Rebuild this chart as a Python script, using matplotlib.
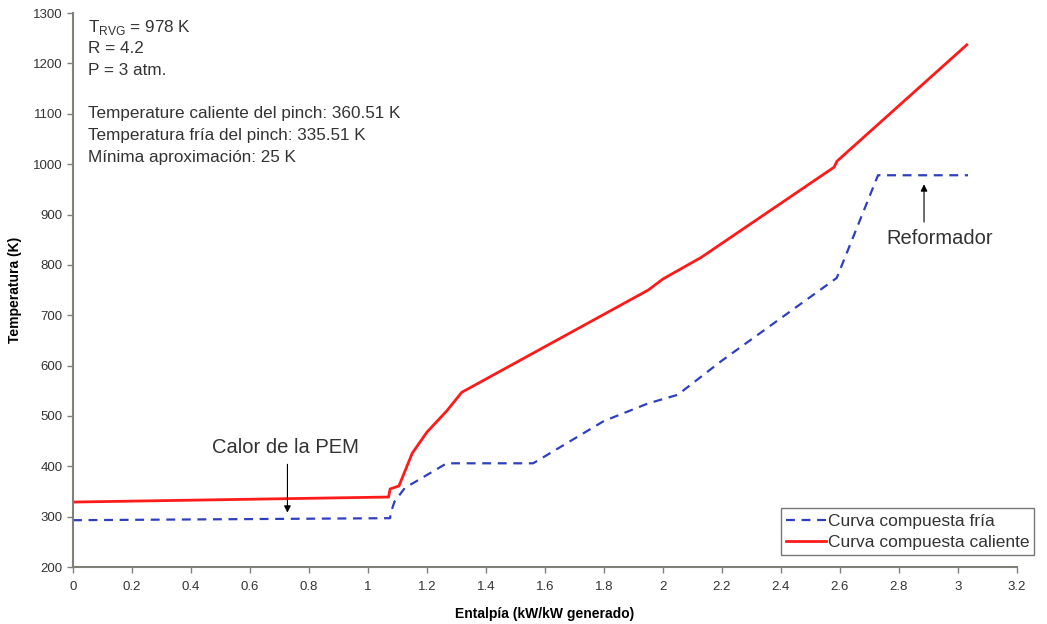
import numpy as np
import matplotlib
matplotlib.use("Agg")
import matplotlib.pyplot as plt

plt.rcParams["font.family"] = ["Liberation Sans", "DejaVu Sans"]
plt.rcParams["mathtext.fontset"] = "custom"
plt.rcParams["mathtext.rm"] = "Liberation Sans"

# composite curves
hot_h = [0.0, 1.07, 1.075, 1.105, 1.15, 1.20, 1.267, 1.318, 1.95, 2.0, 2.13, 2.58, 2.59, 3.03]
hot_t = [329, 339, 355, 361, 426, 468, 510, 547, 750, 772, 815, 994, 1006, 1237]

cold_h = [0.0, 1.075, 1.078, 1.09, 1.125, 1.267, 1.56, 1.8, 1.95, 2.05, 2.2, 2.589, 2.729, 3.034]
cold_t = [293, 297, 309, 330, 357, 406, 406, 490, 525, 542, 610, 774, 978, 978]

info_lines = [
    r"T$_{\mathrm{RVG}}$ = 978 K",
    "R = 4.2",
    "P = 3 atm.",
    "",
    "Temperature caliente del pinch: 360.51 K",
    "Temperatura fría del pinch: 335.51 K",
    "Mínima aproximación: 25 K",
]

fig = plt.figure(figsize=(10.47, 6.24), dpi=100)
ax = fig.add_axes([0.0697, 0.0913, 0.9016, 0.8877])

ax.plot(cold_h, cold_t, color="#2f3fbf", lw=1.6, ls=(0, (4, 3)),
        label="Curva compuesta fría")
ax.plot(hot_h, hot_t, color="#ff1a1a", lw=2.0, label="Curva compuesta caliente")

ax.set_xlim(0, 3.2)
ax.set_ylim(200, 1300)
ax.set_xticks(np.arange(0, 3.21, 0.2))
ax.set_xticklabels(["0", "0.2", "0.4", "0.6", "0.8", "1", "1.2", "1.4", "1.6", "1.8",
                    "2", "2.2", "2.4", "2.6", "2.8", "3", "3.2"])
ax.set_yticks(np.arange(200, 1301, 100))
ax.tick_params(axis="both", direction="out", length=4, width=1, color="#808080",
               labelsize=9.5, labelcolor="#333333")
ax.tick_params(axis="x", pad=6)
for s in ["top", "right"]:
    ax.spines[s].set_visible(False)
for s in ["left", "bottom"]:
    ax.spines[s].set_color("#808078")
    ax.spines[s].set_linewidth(1.5)

ax.set_xlabel("Entalpía (kW/kW generado)", fontsize=10, fontweight="bold", labelpad=10)
ax.set_ylabel("Temperatura (K)", fontsize=10, fontweight="bold", labelpad=8)

y0 = 1272
for i, line in enumerate(info_lines):
    ax.text(0.05, y0 - i * 43, line, fontsize=12.3, color="#333333", va="center", ha="left")

ax.text(0.72, 438, "Calor de la PEM", fontsize=14.5, color="#333333", ha="center", va="center")
ax.annotate("", xy=(0.727, 308), xytext=(0.727, 404),
            arrowprops=dict(arrowstyle="-|>", color="black", lw=0.8,
                            shrinkA=0, shrinkB=0, mutation_scale=10))
ax.text(2.937, 853, "Reformador", fontsize=14.5, color="#333333", ha="center", va="center")
ax.annotate("", xy=(2.885, 960), xytext=(2.885, 885),
            arrowprops=dict(arrowstyle="-|>", color="black", lw=0.8,
                            shrinkA=0, shrinkB=0, mutation_scale=10))

leg = ax.legend(loc="lower right", bbox_to_anchor=(1.024, 0.012), fontsize=12.5,
                frameon=True, fancybox=False, handlelength=2.3, handletextpad=0.1,
                borderpad=0.3, labelspacing=0.35, borderaxespad=0.3)
leg.get_frame().set_edgecolor("#555555")
leg.get_frame().set_linewidth(1.0)
for t in leg.get_texts():
    t.set_color("#333333")

fig.savefig("out.png", dpi=100)
